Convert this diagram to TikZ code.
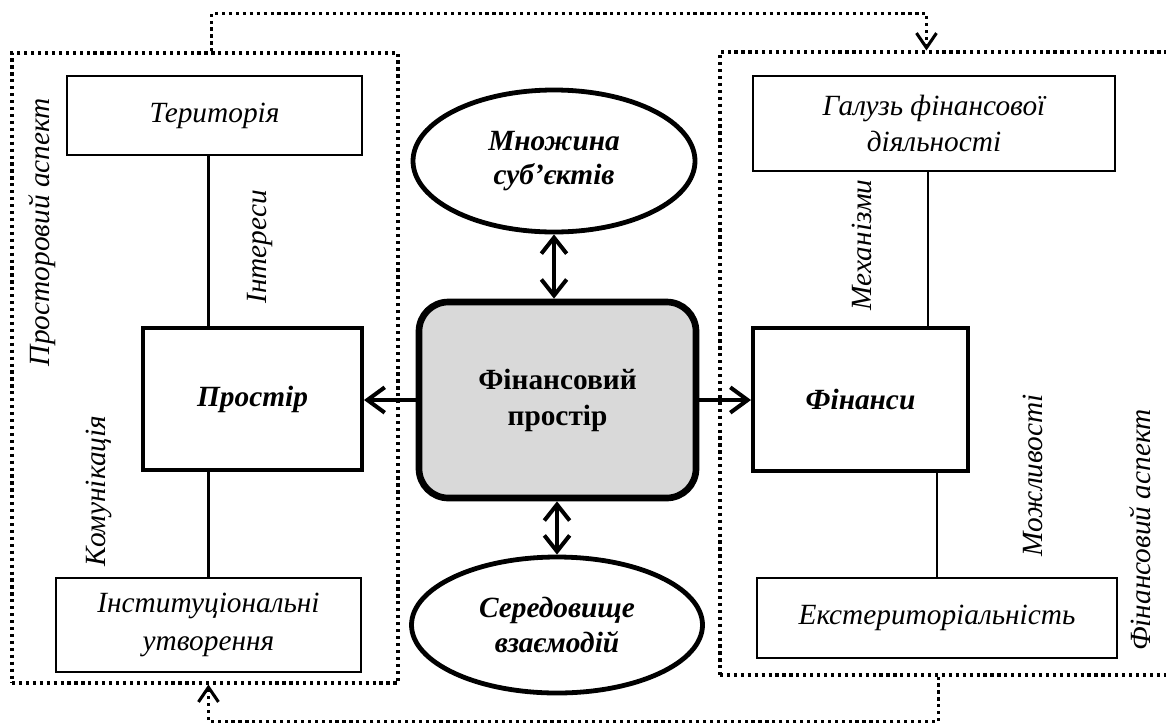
\documentclass[tikz,border=0pt]{standalone}
\usepackage{fontspec}
\setmainfont{Liberation Serif}
\usetikzlibrary{arrows.meta,shapes.geometric}
\begin{document}
\begin{tikzpicture}[x=0.75pt,y=-0.75pt,
  thinbox/.style={draw, line width=1.5pt, inner sep=0pt, align=center, font=\fontsize{22}{27}\selectfont\itshape},
  thickbox/.style={draw, line width=3pt, inner sep=0pt, align=center, font=\fontsize{22}{27}\selectfont\bfseries\itshape},
  ellbox/.style={draw, ellipse, line width=3.6pt, inner sep=0pt, align=center, font=\fontsize{22}{26}\selectfont\bfseries\itshape},
  frame/.style={draw, line width=2.3pt, dash pattern=on 2.4pt off 2.8pt, inner sep=0pt},
  conn/.style={line width=2pt},
  arr/.style={line width=3pt, -{Straight Barb[length=13pt,width=19pt]}},
  darr/.style={line width=3pt, {Straight Barb[length=12pt,width=19pt]}-{Straight Barb[length=12pt,width=19pt]}},
  dotconn/.style={line width=2.3pt, dash pattern=on 2.4pt off 2.8pt, -{Straight Barb[length=11pt,width=15pt,line width=2.3pt]}},
  vlab/.style={rotate=90, inner sep=0pt, font=\fontsize{22}{27}\selectfont\itshape}
]
\useasboundingbox (0,0) rectangle (1166,722);

% frames
\node[frame, minimum width=386*0.75pt, minimum height=630*0.75pt] (lframe) at (205,368) {};
\node[frame, minimum width=460*0.75pt, minimum height=623*0.75pt] (rframe) at (950,363.5) {};

% left side
\node[thinbox, minimum width=295*0.75pt, minimum height=79*0.75pt] (terr) at (214.5,115.5) {Територія};
\node[thickbox, minimum width=219*0.75pt, minimum height=142*0.75pt] (prostir) at (252.5,399) {Простір};
\node[thinbox, minimum width=305*0.75pt, minimum height=94*0.75pt, font=\fontsize{22}{29}\selectfont\itshape] (inst) at (208.5,625) {Інституціональні\\утворення};

% right side
\node[thinbox, minimum width=362*0.75pt, minimum height=95*0.75pt] (galuz) at (934,123.5) {Галузь фінансової\\діяльності};
\node[thickbox, minimum width=215*0.75pt, minimum height=143*0.75pt] (fin) at (860.5,399.5) {Фінанси};
\node[thinbox, minimum width=360*0.75pt, minimum height=80*0.75pt] (ekst) at (937,618) {Екстериторіальність};

% center
\node[draw, line width=5pt, rounded corners=22pt, fill=black!15, inner sep=0pt,
      minimum width=277*0.75pt, minimum height=196*0.75pt, align=center,
      font=\fontsize{22}{27}\selectfont\bfseries] (center) at (557.5,400) {Фінансовий\\простір};
\node[ellbox, minimum width=282*0.75pt, minimum height=142*0.75pt] (mnozh) at (554,161) {Множина\\суб’єктів};
\node[ellbox, minimum width=291*0.75pt, minimum height=136*0.75pt] (ser) at (557,625) {Середовище\\взаємодій};

% vertical labels
\node[vlab] (lasp) at (42,232) {Просторовий аспект};
\node[vlab] (int) at (260,247) {Інтереси};
\node[vlab] (kom) at (99,491) {Комунікація};
\node[vlab] (mech) at (862,245) {Механізми};
\node[vlab] (mozh) at (1033,475) {Можливості};
\node[vlab] (rasp) at (1140,530) {Фінансовий аспект};

% connectors
\draw[conn] (inst.north |- terr.south) -- (inst.north |- prostir.north);
\draw[conn] (inst.north |- prostir.south) -- (inst.north);
\draw[conn] ([shift={(-6,0)}]galuz.south) -- ([shift={(-6,0)}]galuz.south |- fin.north);
\draw[conn] (ekst.north |- fin.south) -- (ekst.north);

\draw[arr] (center.west) -- (prostir.east |- center.west);
\draw[arr] (center.east) -- (fin.west |- center.east);
\draw[darr] (mnozh.south) -- (mnozh.south |- center.north);
\draw[darr] (ser.north |- center.south) -- (ser.north);

% frame connectors
\draw[dotconn] ([shift={(201,0)}]lframe.north west) -- ++(0,-38) -| ([shift={(208,0)}]rframe.north west);
\draw[dotconn] ([shift={(220,0)}]rframe.south west) -- ++(0,45) -| ([shift={(198,0)}]lframe.south west);
\end{tikzpicture}
\end{document}
